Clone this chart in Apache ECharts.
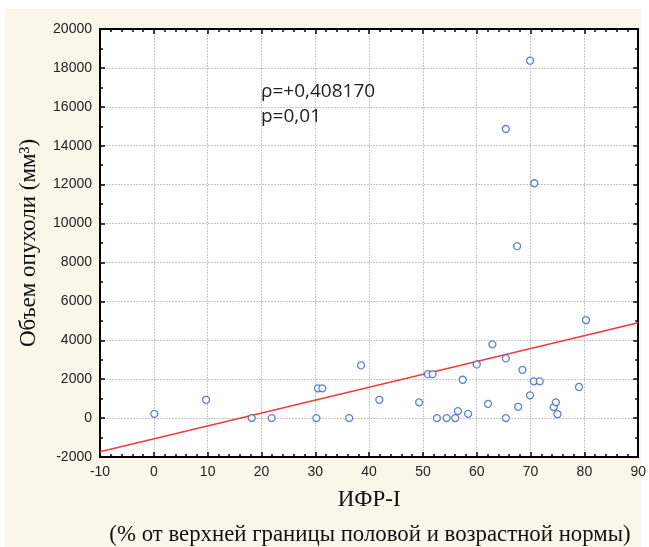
<!DOCTYPE html>
<html><head><meta charset="utf-8">
<script src="https://cdn.jsdelivr.net/npm/echarts@6/dist/echarts.min.js"></script>
<style>html,body{margin:0;padding:0;background:#fff}#c{width:649px;height:547px}</style>
</head><body><div id="c"></div>
<script>
const xValues = [0.1, 9.7, 18.2, 21.9, 30.2, 30.5, 31.3, 36.3, 38.5, 41.9, 49.3, 50.9, 51.8, 52.6, 54.4, 56.0, 56.5, 57.4, 58.4, 60.0, 62.1, 62.9, 65.4, 65.4, 65.4, 67.5, 67.7, 68.5, 69.9, 69.9, 70.6, 70.7, 71.7, 74.3, 74.7, 75.0, 79.0, 80.3];
const yValues = [220, 940, 0, 0, 0, 1530, 1530, 0, 2710, 940, 810, 2260, 2260, 0, 0, 0, 360, 1970, 220, 2760, 735, 3790, 3070, 0, 14860, 8840, 580, 2480, 1170, 18370, 1890, 12070, 1890, 565, 810, 200, 1600, 5040];
const fitX = [-10, 90];
const fitY = [-1730, 4900];
const annotation = ['ρ=+0,408170', 'p=0,01'];
const yTitle = 'Объем опухоли (мм³)';
const xTitle = 'ИФР-I';
const xSubtitle = '(% от верхней границы половой и возрастной нормы)';

const pts = xValues.map((x, i) => [x, yValues[i]]);
const fit = fitX.map((x, i) => [x, fitY[i]]);
const chart = echarts.init(document.getElementById('c'), null, {renderer: 'canvas'});
const axisLine = {show: true, onZero: false, lineStyle: {color: '#000', width: 2}};
const lbl = {fontFamily: 'Liberation Sans', fontSize: 14, color: '#222', formatter: v => String(v)};
const grid = {show: true, lineStyle: {color: '#c8c8c8', type: [2, 1], width: 1}};
const tick = {show: true, inside: true, length: 5, lineStyle: {color: '#000', width: 1.5}};
chart.setOption({
  backgroundColor: '#fff',
  animation: false,
  graphic: [
    {type: 'rect', shape: {x: 5, y: 9, width: 636, height: 538}, style: {fill: '#fcf5ea'}, z: -10},
    {type: 'text', x: 261, y: 92, style: {text: annotation[0], font: '19px "Open Sans"', fill: '#222', verticalAlign: 'middle'}, z: 10},
    {type: 'text', x: 261, y: 117, style: {text: annotation[1], font: '19px "Open Sans"', fill: '#222', verticalAlign: 'middle'}, z: 10},
    {type: 'text', x: 370, y: 535, style: {text: xSubtitle, font: '22.8px "Liberation Serif"', fill: '#111', align: 'center', verticalAlign: 'middle'}}
  ],
  grid: {left: 100, right: 10, top: 29, bottom: 90, show: true, backgroundColor: '#fff', borderWidth: 0},
  xAxis: [
    {type: 'value', min: -10, max: 90, interval: 10, position: 'bottom', axisLine,
     axisTick: tick,
     minorTick: {show: true, splitNumber: 5, length: 3, lineStyle: {color: '#000', width: 1.5}},
     axisLabel: Object.assign({margin: 8}, lbl), splitLine: grid,
     name: xTitle, nameLocation: 'middle', nameGap: 31,
     nameTextStyle: {fontFamily: 'Liberation Serif', fontSize: 23, color: '#111'}},
    {type: 'value', min: -10, max: 90, interval: 10, position: 'top', axisLine,
     axisTick: tick,
     minorTick: {show: true, splitNumber: 5, length: 3, lineStyle: {color: '#000', width: 1.5}},
     axisLabel: {show: false}, splitLine: {show: false}}
  ],
  yAxis: [
    {type: 'value', min: -2000, max: 20000, interval: 2000, position: 'left', axisLine,
     axisTick: tick,
     minorTick: {show: true, splitNumber: 2, length: 3, lineStyle: {color: '#000', width: 1.5}},
     axisLabel: Object.assign({margin: 8}, lbl), splitLine: grid,
     name: yTitle, nameLocation: 'middle', nameGap: 60,
     nameTextStyle: {fontFamily: 'Liberation Serif', fontSize: 23, color: '#111'}},
    {type: 'value', min: -2000, max: 20000, interval: 2000, position: 'right', axisLine,
     axisTick: tick,
     minorTick: {show: true, splitNumber: 2, length: 3, lineStyle: {color: '#000', width: 1.5}},
     axisLabel: {show: false}, splitLine: {show: false}}
  ],
  series: [
    {type: 'line', data: fit, showSymbol: false, symbol: 'none', lineStyle: {color: '#ee3b3b', width: 1.5}, z: 3},
    {type: 'scatter', data: pts, symbol: 'circle', symbolSize: 7,
     itemStyle: {color: '#fff', borderColor: '#3a63c2', borderWidth: 1.3}, z: 4}
  ]
});
</script></body></html>
